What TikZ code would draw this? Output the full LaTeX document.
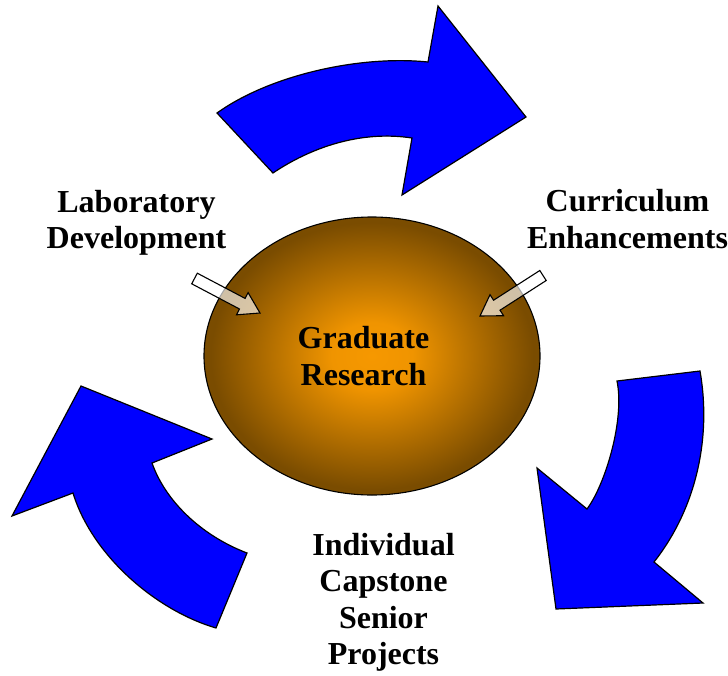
\documentclass[tikz,border=0pt]{standalone}
\usepackage{fontspec}
\setmainfont{Liberation Serif}
\usetikzlibrary{shapes.geometric}
\definecolor{ballin}{RGB}{246,152,0}
\definecolor{ballout}{RGB}{122,76,0}
\definecolor{arrblue}{RGB}{0,0,255}
\pgfdeclareradialshading{ballshade}{\pgfpoint{0bp}{0bp}}{%
  color(0bp)=(ballin); color(6bp)=(ballin!95!ballout); color(24bp)=(ballout); color(25bp)=(ballout); color(50bp)=(ballout)}
\tikzset{
  bluearrow/.style={draw=black, line width=1.2pt, fill=arrblue, line join=miter},
  whitearrow/.style={draw=black, line width=1.1pt, fill=white, fill opacity=0.65, line join=miter},
  lbl/.style={font=\fontsize{32}{36.5}\selectfont\bfseries, align=center, inner sep=0pt},
  ball/.style={ellipse, draw=black, line width=1.1pt, shading=ballshade, minimum width=336pt, minimum height=278pt, inner sep=0pt}
}
\begin{document}
\begin{tikzpicture}[x=1pt, y=-1pt]
\useasboundingbox (0,0) rectangle (728,675);
% top arrow
\draw[bluearrow] (217,113) .. controls (270,75) and (360,55) .. (428,62) -- (438,6) -- (526,117) -- (402,195) -- (412,138) .. controls (360,130) and (310,148) .. (273,173) -- cycle;
% right arrow
\draw[bluearrow] (617,381) -- (700,371) .. controls (712,440) and (695,510) .. (654,562) -- (703,603) -- (556,609) -- (537,468) -- (587,509) .. controls (605,485) and (625,420) .. (617,381) -- cycle;
% left arrow
\draw[bluearrow] (247,553) -- (216,628) .. controls (155,610) and (92,555) .. (73,493) -- (12,516) -- (81,386) -- (212,439) -- (152,463) .. controls (165,500) and (200,535) .. (247,553) -- cycle;
% centre ball
\node[ball] (grad) at (372,356) {};
\node[lbl] (gradtxt) at (363.5,356) {Graduate\\Research};
% labels
\node[lbl] (lab) at (136.5,222.6) {Laboratory\\Development};
\node[lbl] (cur) at (627.5,219.1) {Curriculum\\Enhancements};
\node[lbl] (ind) at (383.5,602.4) {Individual\\Capstone\\Senior\\Projects};
% white arrows
\draw[whitearrow] (191.7,283.8) -- (197.3,273.2) -- (245.1,298.4) -- (248.1,292.6) -- (260,313) -- (236.5,314.8) -- (239.5,309.0) -- cycle;
\draw[whitearrow] (546.2,280.5) -- (539.8,270.5) -- (493.6,300.2) -- (490,294.7) -- (480,316) -- (503.6,315.7) -- (500,310.2) -- cycle;
\end{tikzpicture}
\end{document}
